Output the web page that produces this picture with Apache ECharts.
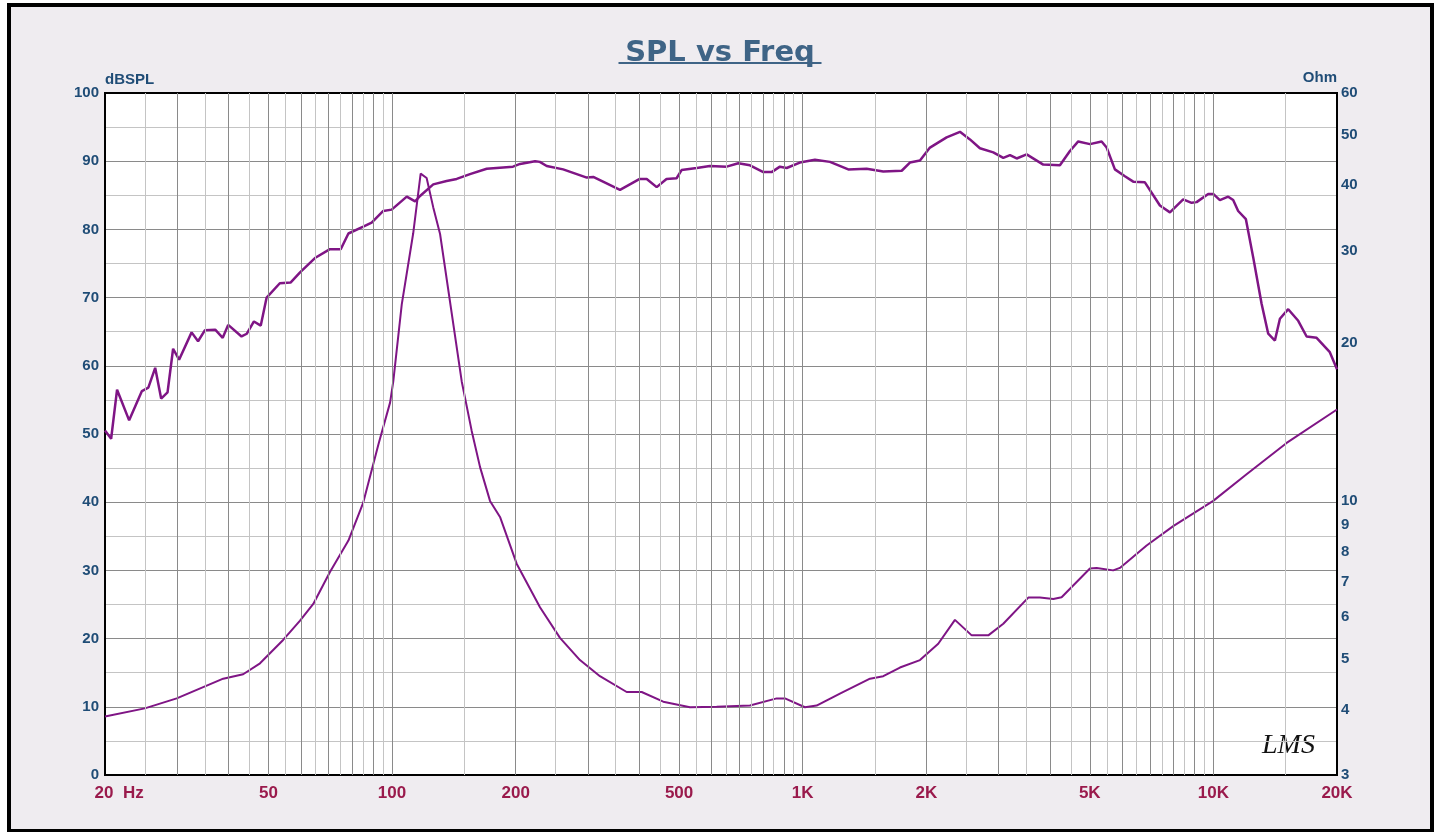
<!DOCTYPE html>
<html>
<head>
<meta charset="utf-8">
<script src="https://cdn.jsdelivr.net/npm/echarts@6/dist/echarts.min.js"></script>
<style>
html,body{margin:0;padding:0;background:#fff;width:1440px;height:832px;overflow:hidden;}
#frame{position:absolute;left:7px;top:3px;width:1427px;height:830px;box-sizing:border-box;border:4px solid #000;background:#efecf0;}
#chart{position:absolute;left:0;top:0;width:1440px;height:832px;}
</style>
</head>
<body>
<div id="frame"></div>
<div id="chart"></div>
<script>
// ---- Data ----
const splFreq = [20,20.7,21.4,22.9,24.6,25.5,26.5,27.4,28.4,29.3,
  30.3,32.5,33.7,35.0,37.1,38.7,39.9,43.0,44.3,46.1,
  47.9,49.5,53.3,56.6,59.7,64.9,70.6,75.0,78.3,85.1,
  89.2,95.2,99.8,108.6,113.8,117,126,135.8,143.7,154.8,
  170,197,205,223,229,238,261,298,309,359,
  401,417,441,466,493,507,552,594,653,697,
  744,802,840,880,914,984,1071,1165,1291,1431,
  1571,1742,1824,1930,2041,2241,2415,2554,2701,2911,
  3079,3197,3319,3510,3852,4230,4474,4687,5005,5344,
  5496,5757,6089,6380,6812,7410,7838,8443,8851,9102,
  9714,9990,10372,10866,11174,11491,12000,12502,13104,13600,
  14120,14522,15214,16092,16868,17840,19212,20000];
const splValues = [50.5,49.3,56.5,52.0,56.3,56.8,59.7,55.2,56.1,62.5,
  60.9,64.9,63.6,65.2,65.3,64.1,66.0,64.3,64.7,66.5,
  65.9,70.0,72.1,72.2,73.7,75.8,77.1,77.1,79.4,80.4,
  81.0,82.7,82.9,84.8,84.1,84.9,86.6,87.1,87.4,88.1,
  88.9,89.2,89.6,90.0,89.9,89.3,88.8,87.6,87.7,85.8,
  87.4,87.4,86.2,87.4,87.5,88.7,89.0,89.3,89.2,89.7,
  89.4,88.4,88.4,89.2,89.0,89.8,90.2,89.9,88.8,88.9,
  88.5,88.6,89.8,90.1,92.0,93.5,94.3,93.2,91.9,91.3,
  90.5,90.9,90.4,91.0,89.5,89.4,91.5,92.9,92.5,92.9,
  92.0,88.8,87.8,87.0,86.9,83.5,82.5,84.4,83.9,84.0,
  85.2,85.2,84.3,84.8,84.3,82.7,81.5,75.9,69.1,64.7,
  63.7,66.9,68.3,66.6,64.3,64.1,62.0,59.5];

const impFreq = [20,25.0,29.9,38.8,43.4,47.7,54.3,59.7,64.3,70.6,
  78.3,85.0,92.6,98.9,100.7,105.6,112.6,117.4,121.4,126.0,
  130.9,147.8,156.3,163.8,173.2,183.2,201.1,229.2,256.4,286.8,
  320.8,372.7,405.4,457.5,531.5,617.2,743.9,864.2,905.3,1012.5,
  1081,1232,1458,1571,1725,1930,2138,2348,2579,2831,
  3079,3542,3781,4075,4270,5005,5196,5702,5920,6878,
  7984,9990,12047,15080,20000];
const impValues = [3.88,4.02,4.20,4.58,4.67,4.90,5.43,5.91,6.36,7.32,
  8.40,9.9,12.8,15.4,16.9,23.7,32.4,42.1,41.3,36.3,
  32.3,16.9,13.6,11.6,10.0,9.32,7.59,6.27,5.48,4.97,
  4.63,4.32,4.32,4.14,4.04,4.05,4.07,4.20,4.20,4.04,
  4.07,4.29,4.58,4.63,4.81,4.97,5.34,5.93,5.54,5.54,
  5.83,6.54,6.54,6.50,6.55,7.43,7.45,7.37,7.45,8.22,
  8.95,10.0,11.24,12.9,14.94];

const xTickValues = [20,50,100,200,500,1000,2000,5000,10000,20000];
const xTickLabels = ['      20  Hz','50','100','200','500','1K','2K','5K','10K','20K'];
const ohmTickValues = [3,4,5,6,7,8,9,10,20,30,40,50,60];
const ohmTickLabels = ['3','4','5','6','7','8','9','10','20','30','40','50','60'];
const gridMajor = [30,40,50,60,70,80,90,100,200,300,400,500,600,700,800,900,
  1000,2000,3000,4000,5000,6000,7000,8000,9000,10000];
const gridMinor = [25,35,45,55,65,75,85,95,150,250,350,450,550,650,750,850,950,
  1500,2500,3500,4500,5500,6500,7500,8500,9500,15000];

// ---- Chart ----
const FONT = 'Liberation Sans';
const blue = '#1f4c76';
const red = '#9a1a4c';
const curve = '#7f1585';

function nearestLabel(v, vals, labels){
  let best = 0, bd = Infinity;
  for (let i = 0; i < vals.length; i++){
    const d = Math.abs(Math.log(v) - Math.log(vals[i]));
    if (d < bd){ bd = d; best = i; }
  }
  return labels[best];
}

const chart = echarts.init(document.getElementById('chart'), null, {renderer:'canvas'});
const option = {
  backgroundColor: 'transparent',
  animation: false,
  title: {
    text: 'SPL vs Freq',
    left: 'center',
    top: 34,
    textStyle: {fontFamily:'DejaVu Sans', fontWeight:'bold', fontSize:29, color:'#3f6486'}
  },
  graphic: [
    {type:'rect', left:'center', top:62, shape:{width:203, height:2}, style:{fill:'#3f6486'}},
    {type:'text', left:1262, top:732, style:{text:'LMS', font:'italic 28px "Liberation Serif"', fill:'#111'}}
  ],
  grid: {left:105, right:103, top:93, bottom:57, show:true, backgroundColor:'#ffffff', borderColor:'#000', borderWidth:2},
  xAxis: [
    {
      type:'log', logBase:10, min:20, max:20000, position:'bottom',
      axisLine:{show:true, onZero:false, lineStyle:{color:'#000', width:2}},
      axisTick:{show:false},
      splitLine:{show:false},
      axisLabel:{
        customValues: xTickValues,
        formatter: v => nearestLabel(v, xTickValues, xTickLabels),
        color: red, fontFamily: FONT, fontWeight:'bold', fontSize:17, margin:10
      }
    },
    {
      type:'log', logBase:10, min:20, max:20000, position:'top',
      axisLine:{show:true, onZero:false, lineStyle:{color:'#000', width:2}},
      axisTick:{show:false}, axisLabel:{show:false}, splitLine:{show:false}
    }
  ],
  yAxis: [
    {
      type:'value', min:0, max:100, interval:10, position:'left',
      name:'dBSPL', nameLocation:'end', nameGap:6,
      nameTextStyle:{align:'left', verticalAlign:'bottom', color:blue, fontFamily:FONT, fontWeight:'bold', fontSize:15},
      axisLine:{show:true, lineStyle:{color:'#000', width:2}},
      axisTick:{show:false},
      axisLabel:{color:blue, fontFamily:FONT, fontWeight:'bold', fontSize:15, margin:6},
      splitLine:{show:true, lineStyle:{color:'#8a8a8a', width:1}},
      minorTick:{show:false, splitNumber:2},
      minorSplitLine:{show:true, lineStyle:{color:'#c4c4c4', width:1}}
    },
    {
      type:'log', logBase:10, min:3, max:60, position:'right',
      name:'Ohm', nameLocation:'end', nameGap:6,
      nameTextStyle:{align:'right', verticalAlign:'bottom', color:blue, fontFamily:FONT, fontWeight:'bold', fontSize:15},
      axisLine:{show:true, lineStyle:{color:'#000', width:2}},
      axisTick:{show:false},
      splitLine:{show:false},
      axisLabel:{
        customValues: ohmTickValues,
        formatter: v => nearestLabel(v, ohmTickValues, ohmTickLabels),
        color:blue, fontFamily:FONT, fontWeight:'bold', fontSize:15, margin:4
      }
    }
  ],
  series: [
    {
      type:'line', name:'gridMinor', data:[], z:1, silent:true,
      markLine:{silent:true, animation:false, symbol:['none','none'], label:{show:false},
        lineStyle:{color:'#c4c4c4', width:1, type:'solid'}, emphasis:{disabled:true},
        data: gridMinor.map(v => ({xAxis:v}))}
    },
    {
      type:'line', name:'gridMajor', data:[], z:1, silent:true,
      markLine:{silent:true, animation:false, symbol:['none','none'], label:{show:false},
        lineStyle:{color:'#8a8a8a', width:1, type:'solid'}, emphasis:{disabled:true},
        data: gridMajor.map(v => ({xAxis:v}))}
    },
    {
      type:'line', name:'SPL', xAxisIndex:0, yAxisIndex:0, z:3,
      data: splFreq.map((f,i) => [f, splValues[i]]),
      showSymbol:false, symbol:'none',
      lineStyle:{color:curve, width:2.5}
    },
    {
      type:'line', name:'Impedance', xAxisIndex:0, yAxisIndex:1, z:3,
      data: impFreq.map((f,i) => [f, impValues[i]]),
      showSymbol:false, symbol:'none',
      lineStyle:{color:curve, width:2}
    }
  ]
};
chart.setOption(option);
</script>
</body>
</html>
